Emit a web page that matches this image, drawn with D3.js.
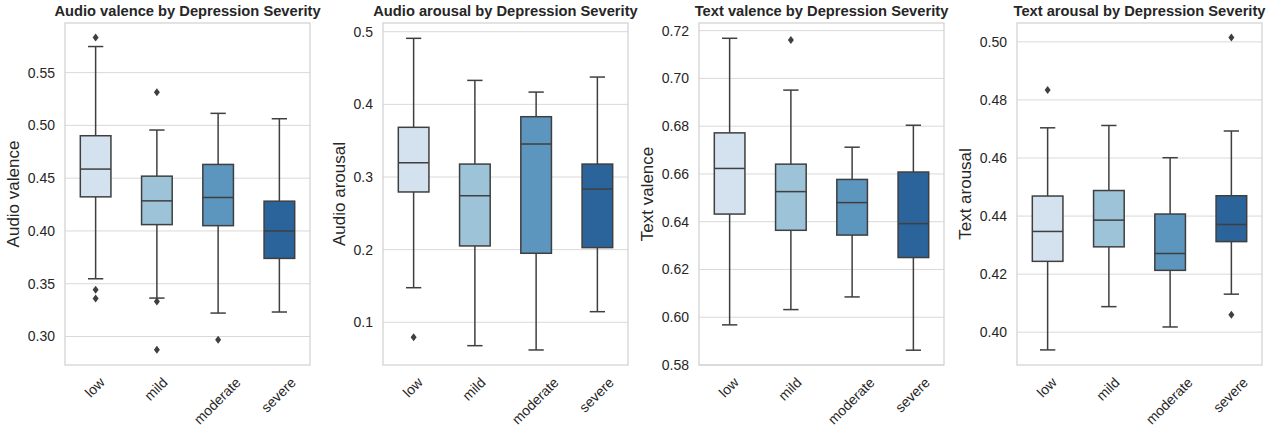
<!DOCTYPE html>
<html>
<head>
<meta charset="utf-8">
<script src="https://cdn.jsdelivr.net/npm/d3@7"></script>
<style>
  body { margin: 0; background: #fff; }
  svg { font-family: "Liberation Sans", Arial, sans-serif; }
</style>
</head>
<body>
<div id="chart"></div>
<script>
// categories shared by every panel
const categories = ["low", "mild", "moderate", "severe"];
const boxColors = ["#d4e2f0", "#9dc3d8", "#5c96bf", "#2b649b"];

// [lower whisker, q1, median, q3, upper whisker] per category
const audioValenceStats = [
  [0.3547, 0.4323, 0.4586, 0.4902, 0.5747],
  [0.3364, 0.4060, 0.4285, 0.4519, 0.4956],
  [0.3222, 0.4050, 0.4317, 0.4630, 0.5114],
  [0.3232, 0.3740, 0.4000, 0.4282, 0.5063]
];
const audioValenceOutliers = [[0.5832, 0.3443, 0.3360], [0.5314, 0.3332, 0.2874], [0.2969], []];
const audioValenceTicks = [0.30, 0.35, 0.40, 0.45, 0.50, 0.55];

const audioArousalStats = [
  [0.1476, 0.2794, 0.3196, 0.3684, 0.4909],
  [0.0678, 0.2051, 0.2742, 0.3178, 0.4330],
  [0.0619, 0.1950, 0.3454, 0.3830, 0.4169],
  [0.1146, 0.2028, 0.2834, 0.3178, 0.4376]
];
const audioArousalOutliers = [[0.0794], [], [], []];
const audioArousalTicks = [0.1, 0.2, 0.3, 0.4, 0.5];

const textValenceStats = [
  [0.5968, 0.6432, 0.6623, 0.6772, 0.7168],
  [0.6032, 0.6364, 0.6526, 0.6641, 0.6951],
  [0.6085, 0.6344, 0.6480, 0.6577, 0.6712],
  [0.5862, 0.6250, 0.6392, 0.6608, 0.6804]
];
const textValenceOutliers = [[], [0.7161], [], []];
const textValenceTicks = [0.58, 0.60, 0.62, 0.64, 0.66, 0.68, 0.70, 0.72];

const textArousalStats = [
  [0.3939, 0.4244, 0.4347, 0.4469, 0.4704],
  [0.4088, 0.4294, 0.4386, 0.4488, 0.4712],
  [0.4018, 0.4213, 0.4271, 0.4407, 0.4601],
  [0.4131, 0.4312, 0.4371, 0.4470, 0.4693]
];
const textArousalOutliers = [[0.4834], [], [], [0.5015, 0.4060]];
const textArousalTicks = [0.40, 0.42, 0.44, 0.46, 0.48, 0.50];

const panels = [
  { title: "Audio valence by Depression Severity", ylabel: "Audio valence", stats: audioValenceStats, outliers: audioValenceOutliers, ticks: audioValenceTicks, domain: [0.273, 0.597], fmt: ".2f", left: 65 },
  { title: "Audio arousal by Depression Severity", ylabel: "Audio arousal", stats: audioArousalStats, outliers: audioArousalOutliers, ticks: audioArousalTicks, domain: [0.0412, 0.512], fmt: ".1f", left: 383 },
  { title: "Text valence by Depression Severity", ylabel: "Text valence", stats: textValenceStats, outliers: textValenceOutliers, ticks: textValenceTicks, domain: [0.58, 0.7232], fmt: ".2f", left: 699 },
  { title: "Text arousal by Depression Severity", ylabel: "Text arousal", stats: textArousalStats, outliers: textArousalOutliers, ticks: textArousalTicks, domain: [0.3887, 0.5065], fmt: ".2f", left: 1017 }
];

const W = 1277, H = 427;
const plotTop = 23, plotBottom = 365, plotW = 245;
const edge = "#3f3f3f";

const svg = d3.select("#chart").append("svg")
  .attr("width", W).attr("height", H);

panels.forEach(p => {
  const g = svg.append("g").attr("transform", `translate(${p.left},0)`);

  const x = d3.scaleBand().domain(categories).range([0, plotW]);
  const y = d3.scaleLinear().domain(p.domain).range([plotBottom, plotTop]);
  const bw = x.bandwidth() * 0.5;

  // grid
  g.selectAll("line.grid").data(p.ticks).join("line")
    .attr("class", "grid")
    .attr("x1", 0).attr("x2", plotW)
    .attr("y1", d => y(d)).attr("y2", d => y(d))
    .attr("stroke", "#d9d9d9").attr("stroke-width", 1);

  // frame
  g.append("rect")
    .attr("x", 0).attr("y", plotTop).attr("width", plotW).attr("height", plotBottom - plotTop)
    .attr("fill", "none").attr("stroke", "#d0d0d0").attr("stroke-width", 1.2);

  // y axis
  const yAxis = g.append("g")
    .call(d3.axisLeft(y).tickValues(p.ticks).tickFormat(d3.format(p.fmt)).tickSize(0).tickPadding(10));
  yAxis.select(".domain").remove();
  yAxis.selectAll("text").attr("font-size", 14).attr("fill", "#262626")
    .attr("font-family", "Liberation Sans, Arial, sans-serif");

  let maxW = 0;
  yAxis.selectAll("text").each(function () { maxW = Math.max(maxW, this.getComputedTextLength()); });

  g.append("text")
    .attr("transform", `translate(${-10 - maxW - 14},${(plotTop + plotBottom) / 2}) rotate(-90)`)
    .attr("text-anchor", "middle").attr("dominant-baseline", "central")
    .attr("font-size", 17).attr("fill", "#262626")
    .text(p.ylabel);

  // title
  g.append("text")
    .attr("x", plotW / 2).attr("y", 16)
    .attr("text-anchor", "middle")
    .attr("font-size", 14.7).attr("font-weight", "bold").attr("fill", "#262626")
    .text(p.title);

  // x tick labels rotated 45 deg, centred under tick
  g.selectAll("text.xlab").data(categories).join("text")
    .attr("class", "xlab")
    .attr("font-size", 14).attr("fill", "#262626")
    .attr("text-anchor", "middle").attr("dominant-baseline", "central")
    .text(d => d)
    .attr("transform", function (d) {
      const w = this.getComputedTextLength();
      const h = 11;
      const cy = 376 + (w + h) * Math.SQRT1_2 / 2;
      return `translate(${x(d) + x.bandwidth() / 2 - 1},${cy}) rotate(-45)`;
    });

  // boxes
  const box = g.selectAll("g.box").data(p.stats).join("g")
    .attr("class", "box")
    .attr("transform", (d, i) => `translate(${x(categories[i]) + x.bandwidth() / 2},0)`);

  box.append("line")
    .attr("x1", 0).attr("x2", 0)
    .attr("y1", d => y(d[0])).attr("y2", d => y(d[1]))
    .attr("stroke", edge).attr("stroke-width", 1.5);
  box.append("line")
    .attr("x1", 0).attr("x2", 0)
    .attr("y1", d => y(d[3])).attr("y2", d => y(d[4]))
    .attr("stroke", edge).attr("stroke-width", 1.5);
  [0, 4].forEach(k => {
    box.append("line")
      .attr("x1", -bw / 4).attr("x2", bw / 4)
      .attr("y1", d => y(d[k])).attr("y2", d => y(d[k]))
      .attr("stroke", edge).attr("stroke-width", 1.5);
  });
  box.append("rect")
    .attr("x", -bw / 2).attr("width", bw)
    .attr("y", d => y(d[3])).attr("height", d => y(d[1]) - y(d[3]))
    .attr("fill", (d, i) => boxColors[i])
    .attr("stroke", edge).attr("stroke-width", 1.5);
  box.append("line")
    .attr("x1", -bw / 2).attr("x2", bw / 2)
    .attr("y1", d => y(d[2])).attr("y2", d => y(d[2]))
    .attr("stroke", edge).attr("stroke-width", 1.5);

  // outliers (thin diamonds)
  p.outliers.forEach((vals, i) => {
    const cx = x(categories[i]) + x.bandwidth() / 2;
    g.selectAll(null).data(vals).join("path")
      .attr("d", "M0,-4L3,0L0,4L-3,0Z")
      .attr("transform", v => `translate(${cx},${y(v)})`)
      .attr("fill", edge);
  });
});
</script>
</body>
</html>
